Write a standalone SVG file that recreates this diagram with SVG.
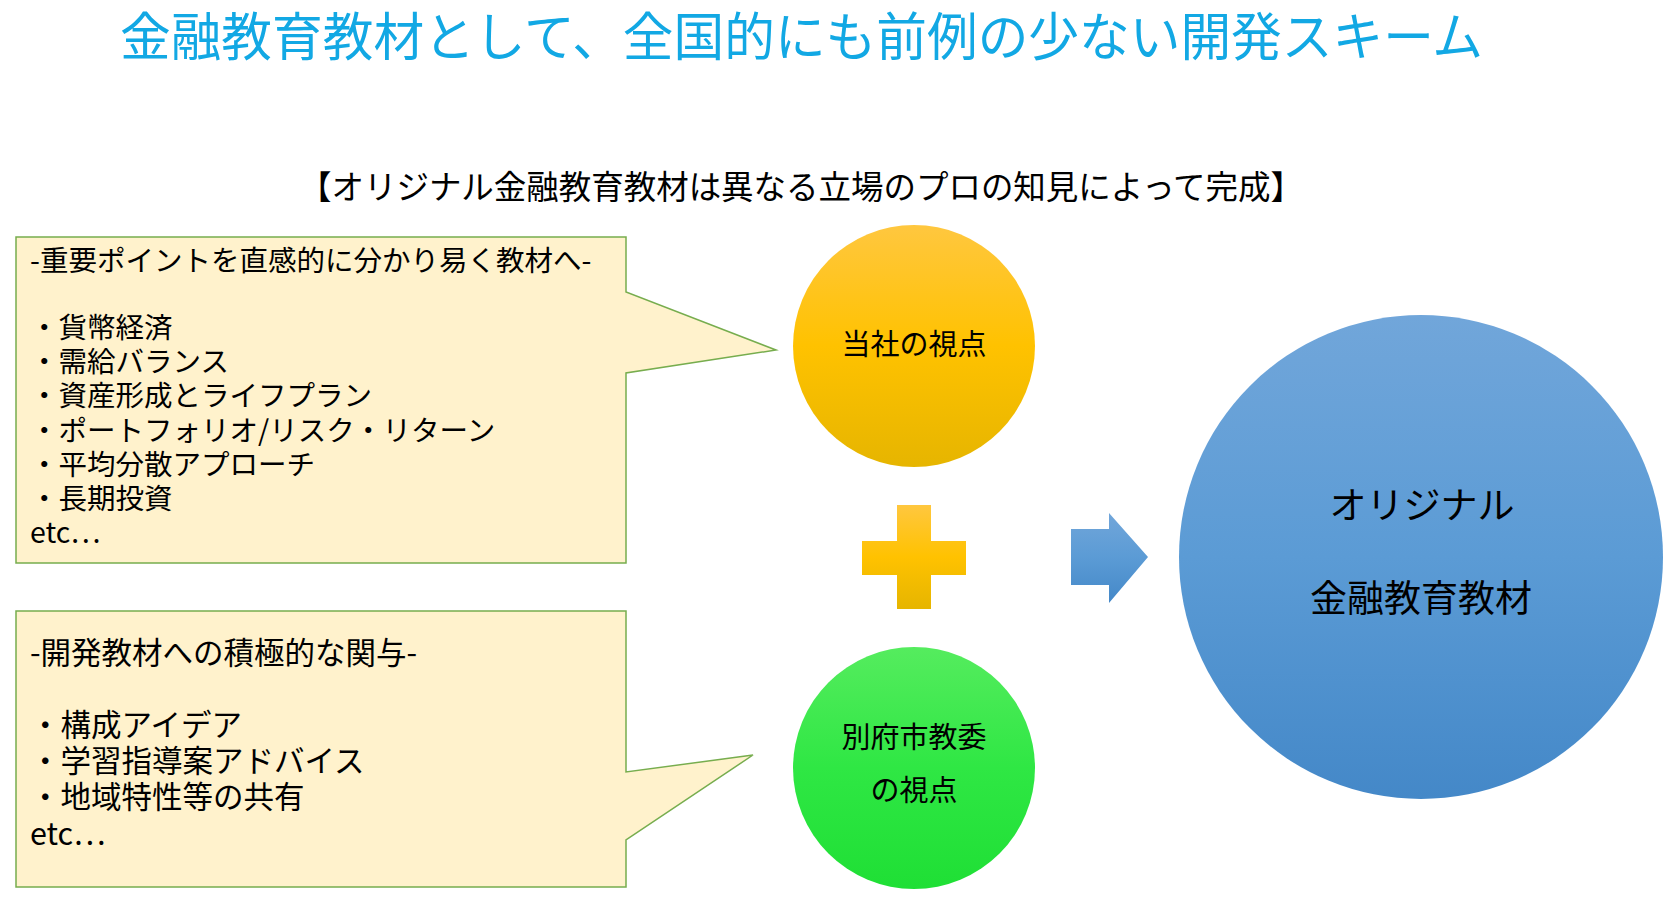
<svg xmlns="http://www.w3.org/2000/svg" width="1675" height="897" viewBox="0 0 1675 897">
  <defs>
    <linearGradient id="gOrange" x1="0" y1="0" x2="0" y2="1">
      <stop offset="0" stop-color="#FFC73F"/>
      <stop offset="0.5" stop-color="#FFC200"/>
      <stop offset="1" stop-color="#E6B500"/>
    </linearGradient>
    <linearGradient id="gGreen" x1="0" y1="0" x2="0" y2="1">
      <stop offset="0" stop-color="#55EC5E"/>
      <stop offset="0.5" stop-color="#2FE744"/>
      <stop offset="1" stop-color="#1FDF35"/>
    </linearGradient>
    <linearGradient id="gBlue" x1="0" y1="0" x2="0" y2="1">
      <stop offset="0" stop-color="#71A6DA"/>
      <stop offset="0.5" stop-color="#5B9BD5"/>
      <stop offset="1" stop-color="#4488C8"/>
    </linearGradient>
    <style>
      text { font-family: "Noto Sans CJK JP", "Noto Sans", sans-serif; fill: #000; }
      .title { font-size: 52px; fill: #12A8E4; }
      .sub { font-size: 33px; }
      .box { fill: #FFF2CC; stroke: #77AD4E; stroke-width: 1.5; }
      .bt { font-size: 28.5px; }
      .bt2 { font-size: 30.5px; }
      .ct { font-size: 29px; text-anchor: middle; }
      .bigt { font-size: 37px; text-anchor: middle; }
    </style>
  </defs>

  <g id="title">
    <text class="title" x="120" y="56" textLength="1363" lengthAdjust="spacingAndGlyphs">金融教育教材として、全国的にも前例の少ない開発スキーム</text>
  </g>

  <g id="subtitle">
    <text class="sub" x="299" y="199" textLength="1004" lengthAdjust="spacingAndGlyphs">【オリジナル金融教育教材は異なる立場のプロの知見によって完成】</text>
  </g>

  <g id="callout-company">
    <path class="box" d="M16,237 H626 V292 L776,350 L626,373 V563 H16 Z"/>
    <text class="bt" x="30" y="271">-重要ポイントを直感的に分かり易く教材へ-</text>
    <text class="bt" x="30" y="338">・貨幣経済</text>
    <text class="bt" x="30" y="372">・需給バランス</text>
    <text class="bt" x="30" y="406">・資産形成とライフプラン</text>
    <text class="bt" x="30" y="441">・ポートフォリオ/リスク・リターン</text>
    <text class="bt" x="30" y="475">・平均分散アプローチ</text>
    <text class="bt" x="30" y="509">・長期投資</text>
    <text class="bt" x="30" y="543">etc…</text>
  </g>

  <g id="callout-board">
    <path class="box" d="M16,611 H626 V772 L753,755 L626,840 V887 H16 Z"/>
    <text class="bt2" x="30" y="664">-開発教材への積極的な関与-</text>
    <text class="bt2" x="30" y="736">・構成アイデア</text>
    <text class="bt2" x="30" y="772">・学習指導案アドバイス</text>
    <text class="bt2" x="30" y="808">・地域特性等の共有</text>
    <text class="bt2" x="30" y="845">etc…</text>
  </g>

  <g id="node-company">
    <circle cx="914" cy="346" r="121" fill="url(#gOrange)"/>
    <text class="ct" x="914" y="355">当社の視点</text>
  </g>

  <g id="plus">
    <path d="M897,505 H931 V541 H966 V575 H931 V609 H897 V575 H862 V541 H897 Z" fill="url(#gOrange)"/>
  </g>

  <g id="node-board">
    <circle cx="914" cy="768" r="121" fill="url(#gGreen)"/>
    <text class="ct" x="914" y="748">別府市教委</text>
    <text class="ct" x="914" y="801">の視点</text>
  </g>

  <g id="connectors">
    <path d="M1071,529 H1109 V513 L1148,557 L1109,603 V585 H1071 Z" fill="url(#gBlue)"/>
  </g>

  <g id="node-result">
    <circle cx="1421" cy="557" r="242" fill="url(#gBlue)"/>
    <text class="bigt" x="1422" y="519">オリジナル</text>
    <text class="bigt" x="1421" y="612">金融教育教材</text>
  </g>
</svg>
